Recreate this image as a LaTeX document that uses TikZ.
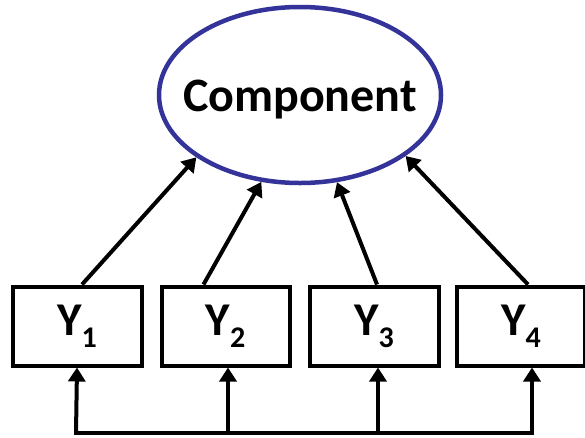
\documentclass[tikz,border=0pt]{standalone}
\usepackage{fontspec}
\setmainfont{Carlito}
\usetikzlibrary{arrows.meta,shapes.geometric}
\definecolor{compblue}{RGB}{51,51,153}
\tikzset{
  comp/.style={ellipse, draw=compblue, line width=4.5pt, inner sep=0pt,
    minimum width=282pt, minimum height=176pt},
  comptext/.style={font=\fontsize{48}{48}\selectfont\bfseries},
  ybox/.style={rectangle, draw=black, line width=4pt, inner sep=0pt,
    minimum height=79pt, font=\fontsize{47}{47}\selectfont\bfseries},
  link/.style={line width=4pt, -{Triangle[length=14pt,width=17pt]}},
  base/.style={line width=4pt}
}
\newcommand{\yvar}[1]{Y\raisebox{-12pt}{\fontsize{30}{30}\selectfont\bfseries #1}}
\begin{document}
\begin{tikzpicture}[x=1pt,y=-1pt]
  \useasboundingbox (0,0) rectangle (585,437);
  \clip (0,0) rectangle (585,437);

  % latent component
  \node[comp] (c) at (300,95) {};
  \node[comptext] (ct) at ([yshift=-5pt]c.center) {Component};

  % indicator boxes
  \node[ybox, minimum width=129pt] (y1) at (77,326) {\yvar{1}};
  \node[ybox, minimum width=128pt] (y2) at (225.5,326) {\yvar{2}};
  \node[ybox, minimum width=129pt] (y3) at (374,326) {\yvar{3}};
  \node[ybox, minimum width=128pt] (y4) at (521,326) {\yvar{4}};

  % loadings towards the component
  \draw[link] ([xshift=5pt]y1.north) -- (c.211.5);
  \draw[link] ([xshift=-22pt]y2.north) -- (c.246);
  \draw[link] ([xshift=3pt]y3.north) -- (c.293);
  \draw[link] ([xshift=7pt]y4.north) -- (c.330);

  % common bottom line feeding each box
  \coordinate (b1) at (76,433);
  \coordinate (b2) at (228,433);
  \coordinate (b3) at (378,433);
  \coordinate (b4) at (532,433);
  \draw[base, line cap=rect] (b1) -- (b4);
  \draw[link] (b1) -- (y1.south);
  \draw[link] (b2) -- ([xshift=2.5pt]y2.south);
  \draw[link] (b3) -- ([xshift=4pt]y3.south);
  \draw[link] (b4) -- ([xshift=11pt]y4.south);
\end{tikzpicture}
\end{document}
